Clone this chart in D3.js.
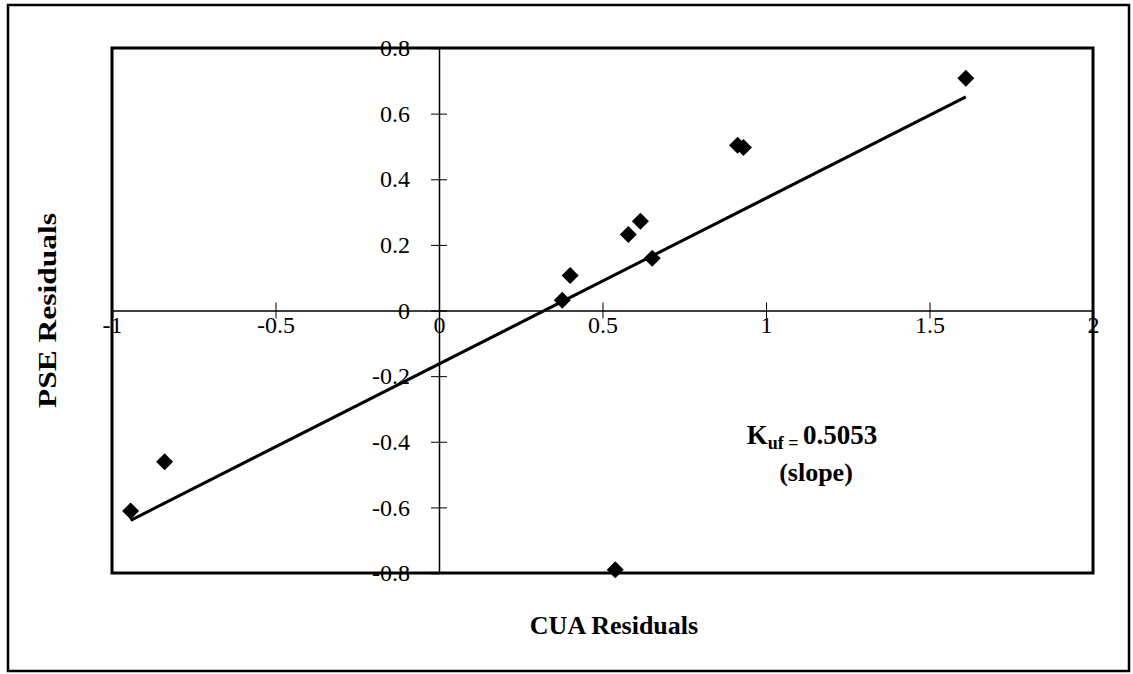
<!DOCTYPE html>
<html>
<head>
<meta charset="utf-8">
<script src="https://cdn.jsdelivr.net/npm/d3@7"></script>
<style>
  body { margin: 0; background: #fff; }
  text { font-family: "Liberation Serif", "Times New Roman", serif; }
</style>
</head>
<body>
<svg></svg>
<script>
const width = 1133;
const height = 674;
const svg = d3.select("svg").attr("width", width).attr("height", height);

// residuals
const cuaResiduals = [-0.943, -0.839, 0.377, 0.401, 0.579, 0.616, 0.652, 0.913, 0.931, 1.611, 0.539];
const pseResiduals = [-0.611, -0.461, 0.031, 0.107, 0.232, 0.272, 0.159, 0.504, 0.497, 0.708, -0.79];
const xTicks = [-1, -0.5, 0, 0.5, 1, 1.5, 2];
const yTicks = [-0.8, -0.6, -0.4, -0.2, 0, 0.2, 0.4, 0.6, 0.8];
const slope = 0.5053;
const intercept = -0.163;

const points = cuaResiduals.map((d, i) => ({ x: d, y: pseResiduals[i] }));

const plot = { left: 112, right: 1093, top: 48, bottom: 573 };

const x = d3.scaleLinear().domain([-1, 2]).range([plot.left, plot.right]);
const y = d3.scaleLinear().domain([-0.8, 0.8]).range([plot.bottom, plot.top]);

const fmt = (d) => String(d);

// outer border
svg.append("rect")
  .attr("x", 8).attr("y", 5)
  .attr("width", 1121).attr("height", 666)
  .attr("fill", "none").attr("stroke", "#000").attr("stroke-width", 2.5);

// x axis through y = 0
const xAxis = svg.append("g")
  .attr("transform", `translate(0,${y(0)})`)
  .call(d3.axisBottom(x).tickValues(xTicks).tickFormat(fmt).tickSize(8));
xAxis.select(".domain").attr("stroke", "#000").attr("stroke-width", 1.5);
xAxis.selectAll(".tick line").attr("y1", -8).attr("y2", 8).attr("stroke", "#000");
xAxis.selectAll(".tick text")
  .attr("y", 5)
  .attr("font-size", 24).attr("fill", "#000")
  .attr("font-family", "Liberation Serif");

// y axis through x = 0
const yAxis = svg.append("g")
  .attr("transform", `translate(${x(0)},0)`)
  .call(d3.axisLeft(y).tickValues(yTicks).tickFormat(fmt).tickSize(8));
yAxis.select(".domain").attr("stroke", "#000").attr("stroke-width", 1.5);
yAxis.selectAll(".tick line").attr("x1", -8).attr("x2", 8).attr("stroke", "#000");
yAxis.selectAll(".tick text")
  .attr("x", -29)
  .attr("font-size", 24).attr("fill", "#000")
  .attr("font-family", "Liberation Serif");

// plot frame
svg.append("rect")
  .attr("x", plot.left).attr("y", plot.top)
  .attr("width", plot.right - plot.left).attr("height", plot.bottom - plot.top)
  .attr("fill", "none").attr("stroke", "#000").attr("stroke-width", 3);

// trend line over the data range
const [xMin, xMax] = d3.extent(cuaResiduals);
svg.append("line")
  .attr("x1", x(xMin)).attr("y1", y(intercept + slope * xMin))
  .attr("x2", x(xMax)).attr("y2", y(intercept + slope * xMax))
  .attr("stroke", "#000").attr("stroke-width", 3);

// diamond markers
const r = 8.5;
svg.append("g")
  .selectAll("path")
  .data(points)
  .enter()
  .append("path")
  .attr("d", `M0,${-r}L${r},0L0,${r}L${-r},0Z`)
  .attr("transform", (d) => `translate(${x(d.x)},${y(d.y)})`)
  .attr("fill", "#000");

// annotation
const note = svg.append("text")
  .attr("x", 812).attr("y", 444)
  .attr("text-anchor", "middle")
  .attr("font-size", 27).attr("font-weight", "bold");
note.append("tspan").text("K");
note.append("tspan").attr("font-size", 18).attr("dy", 5).text("uf = ");
note.append("tspan").attr("dy", -5).text("0.5053");

svg.append("text")
  .attr("x", 816).attr("y", 481)
  .attr("text-anchor", "middle")
  .attr("font-size", 26).attr("font-weight", "bold")
  .text("(slope)");

// axis titles
svg.append("text")
  .attr("x", 614).attr("y", 634)
  .attr("text-anchor", "middle")
  .attr("font-size", 26).attr("font-weight", "bold")
  .text("CUA Residuals");

svg.append("text")
  .attr("transform", `translate(56,${y(0)}) rotate(-90)`)
  .attr("text-anchor", "middle")
  .attr("font-size", 26).attr("font-weight", "bold")
  .attr("textLength", 195).attr("lengthAdjust", "spacingAndGlyphs")
  .text("PSE Residuals");
</script>
</body>
</html>
